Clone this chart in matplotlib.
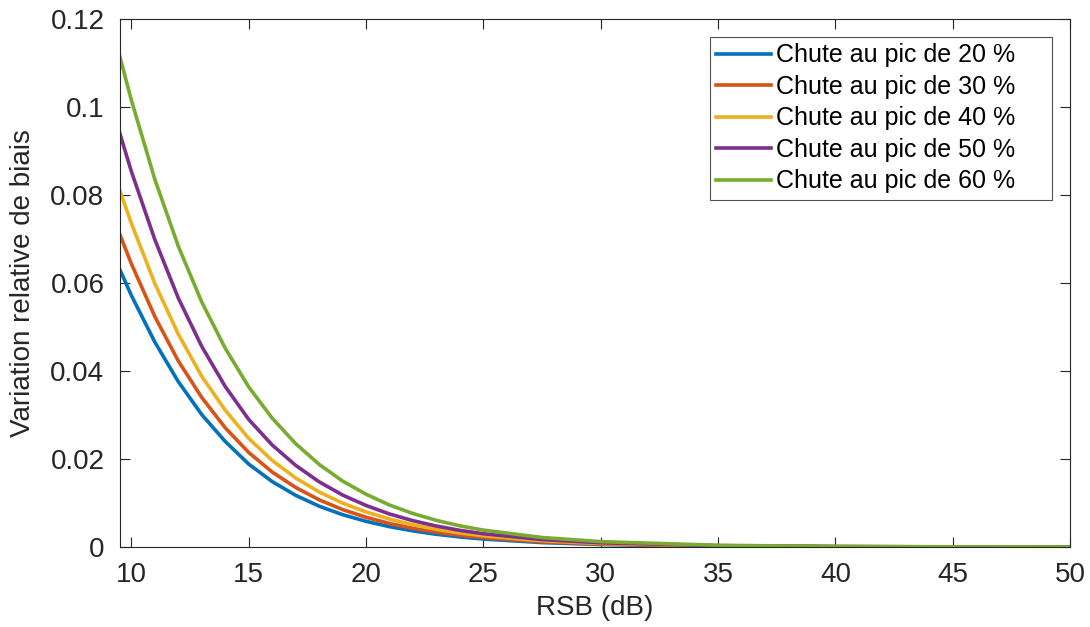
import matplotlib
matplotlib.use("Agg")
import matplotlib.pyplot as plt

rsb_db = [9.5, 10, 11, 12, 13, 14, 15, 16, 17, 18, 19, 20, 21, 22, 23, 24, 25,
          27.5, 30, 35, 40, 45, 50]
chute_20 = [0.0632, 0.0572, 0.0466, 0.0376, 0.0301, 0.0240, 0.01886, 0.01488, 0.01175,
            0.00929, 0.00735, 0.00584, 0.00462, 0.00366, 0.00289, 0.00228, 0.00181,
            0.00100, 0.00056, 0.000174, 0.0000541, 0.0000167, 0.0000052]
chute_30 = [0.0712, 0.0644, 0.0524, 0.0423, 0.0340, 0.0271, 0.0215, 0.01705, 0.01354,
            0.01073, 0.00851, 0.00676, 0.00535, 0.00425, 0.00337, 0.00267, 0.00212,
            0.00119, 0.000665, 0.000209, 0.0000664, 0.000021, 0.0000066]
chute_40 = [0.0812, 0.0736, 0.0599, 0.0484, 0.0388, 0.0311, 0.0247, 0.0197, 0.0157,
            0.01252, 0.00998, 0.00798, 0.00634, 0.00506, 0.00402, 0.00320, 0.00255,
            0.00143, 0.000805, 0.000255, 0.0000812, 0.0000256, 0.0000081]
chute_50 = [0.0942, 0.0854, 0.0699, 0.0566, 0.0456, 0.0365, 0.0290, 0.0232, 0.01857,
            0.01483, 0.01182, 0.00944, 0.00751, 0.00598, 0.00476, 0.00378, 0.00301,
            0.00169, 0.000952, 0.000302, 0.0000960, 0.0000303, 0.0000096]
chute_60 = [0.1117, 0.1016, 0.0836, 0.0684, 0.0557, 0.0452, 0.0364, 0.0293, 0.0235,
            0.0188, 0.0150, 0.0120, 0.00954, 0.00761, 0.00605, 0.00481, 0.00384,
            0.00216, 0.00122, 0.000387, 0.000123, 0.0000388, 0.0000123]

labels = ["Chute au pic de 20 %", "Chute au pic de 30 %", "Chute au pic de 40 %",
          "Chute au pic de 50 %", "Chute au pic de 60 %"]
colors = ["#0072BD", "#D95319", "#EDB120", "#7E2F8E", "#77AC30"]
series = [chute_20, chute_30, chute_40, chute_50, chute_60]

xticks = [10, 15, 20, 25, 30, 35, 40, 45, 50]
yticks = [0, 0.02, 0.04, 0.06, 0.08, 0.1, 0.12]
yticklabels = ["0", "0.02", "0.04", "0.06", "0.08", "0.1", "0.12"]

plt.rcParams['font.family'] = ['Liberation Sans', 'DejaVu Sans']

fig = plt.figure(figsize=(10.9, 6.27), dpi=100)
ax = fig.add_axes([0.1098, 0.1276, 0.8719, 0.8413])

for ys, c, lab in zip(series, colors, labels):
    ax.plot(rsb_db, ys, color=c, lw=2.6, label=lab, solid_joinstyle='round')

ax.set_xlim(9.5, 50)
ax.set_ylim(0, 0.12)
ax.set_xticks(xticks)
ax.set_yticks(yticks)
ax.set_yticklabels(yticklabels)
ax.tick_params(direction='in', length=7.5, width=0.8, colors='#262626',
               labelsize=20, top=True, right=True)
ax.tick_params(axis='x', pad=11)
ax.tick_params(axis='y', pad=11)
for s in ax.spines.values():
    s.set_color('#262626')
    s.set_linewidth(0.8)

ax.set_xlabel("RSB (dB)", fontsize=20, color='#262626', labelpad=5)
ax.set_ylabel("Variation relative de biais", fontsize=20, color='#262626', labelpad=10)

leg = ax.legend(loc='upper left', bbox_to_anchor=(0.6212, 0.6597, 0.3599, 0.3071),
                mode='expand', borderaxespad=0, fontsize=18, frameon=True,
                fancybox=False, edgecolor='#262626', handlelength=2.2,
                handletextpad=0.2, labelspacing=0.3, borderpad=0.25)
leg.get_frame().set_linewidth(0.8)

fig.savefig("out.png", dpi=100)
